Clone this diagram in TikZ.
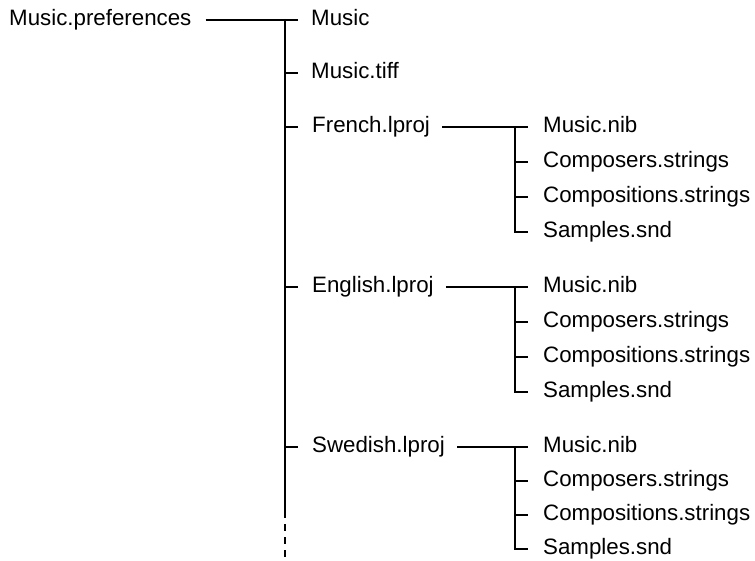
\documentclass[tikz,border=0pt]{standalone}
\usepackage{fontspec}
\setmainfont{Liberation Sans}
\begin{document}
\begin{tikzpicture}[x=1pt,y=-1pt,
  font=\fontsize{22.3}{26}\selectfont,
  entry/.style={anchor=mid west, inner sep=0pt},
  wire/.style={line width=2pt, line cap=butt}]
\fontsize{22.3}{26}\selectfont
\useasboundingbox (0,0) rectangle (755,561);

% root and first-level entries
\node[entry] (pref)  at (9,20)   {Music.preferences};
\node[entry] (music) at (311,20) {Music};
\node[entry] (tiff)  at (311,73) {Music.tiff};

% trunk
\coordinate (t0)   at (285,20);
\coordinate (tend) at (285,518);
\coordinate (td0)  at (285,524);
\coordinate (td1)  at (285,561);
\draw[wire] ([xshift=14pt]pref.mid east) -- ([xshift=-13pt]music.mid west);
\draw[wire] ([yshift=1pt]t0) -- (tend);
\draw[wire, dash pattern=on 7pt off 6pt] (td0) -- (td1);
\draw[wire] (t0 |- tiff.mid west) -- ([xshift=-13pt]tiff.mid west);

% localized resource folders with their contents
\foreach \g/\name/\y/\d in {fr/French.lproj/127/35, en/English.lproj/287/35, sw/Swedish.lproj/447/34}{
  \node[entry] (\g) at (312,\y) {\name};
  \node[entry] (\g1) at (543,\y)      {Music.nib};
  \node[entry] (\g2) at (543,\y+\d)   {Composers.strings};
  \node[entry] (\g3) at (543,\y+2*\d) {Compositions.strings};
  \node[entry] (\g4) at (543,\y+3*\d) {Samples.snd};
  \draw[wire] (t0 |- \g.mid west) -- ([xshift=-14pt]\g.mid west);
  \draw[wire] ([xshift=12pt]\g.mid east) -- ([xshift=-15pt]\g1.mid west);
  \draw[wire] ([xshift=-28pt,yshift=1pt]\g1.mid west) -- ([xshift=-28pt]\g4.mid west) -- ([xshift=-15pt]\g4.mid west);
  \draw[wire] ([xshift=-28pt]\g2.mid west) -- ([xshift=-15pt]\g2.mid west);
  \draw[wire] ([xshift=-28pt]\g3.mid west) -- ([xshift=-15pt]\g3.mid west);
}
\end{tikzpicture}
\end{document}
